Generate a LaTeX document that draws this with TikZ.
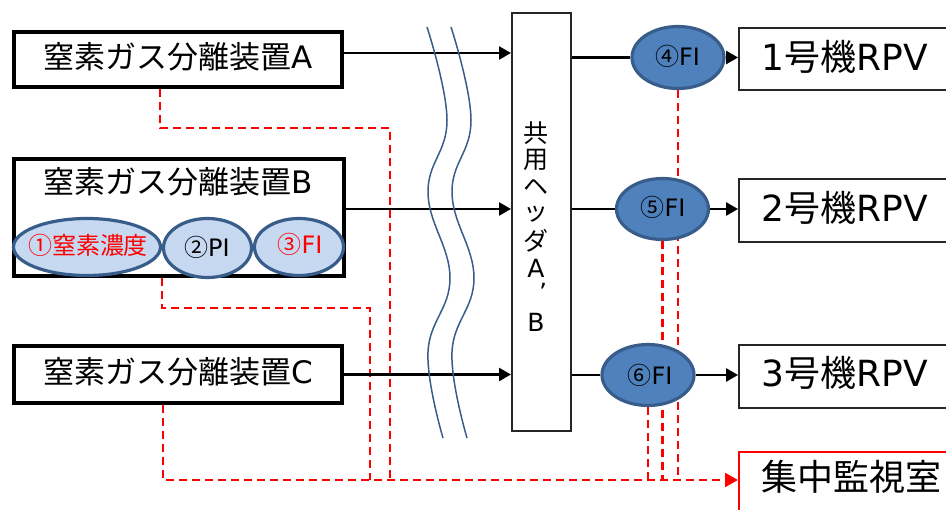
\documentclass[tikz,border=0pt]{standalone}
\usepackage{fontspec}
\setmainfont{DejaVu Sans}
\newfontfamily\jp{Noto Sans CJK JP}
\usetikzlibrary{arrows.meta,shapes.geometric}
\definecolor{lblue}{HTML}{C6D9F1}
\definecolor{mblue}{HTML}{4F81BD}
\definecolor{dblue}{HTML}{385D8A}
\definecolor{redc}{HTML}{FF0000}
\pgfdeclarelayer{bg}
\pgfsetlayers{bg,main}
\begin{document}
\begin{tikzpicture}[x=1pt,y=-1pt,
  thickbox/.style={draw=black,line width=4pt,fill=white,inner sep=0pt},
  thinbox/.style={draw=black!85,line width=1.8pt,fill=white,inner sep=0pt},
  redbox/.style={draw=redc,line width=2pt,fill=white,inner sep=0pt},
  lell/.style={ellipse,draw=dblue,line width=3.2pt,fill=lblue,inner sep=0pt},
  fell/.style={ellipse,draw=dblue,line width=3.2pt,fill=mblue,inner sep=0pt},
  arr/.style={line width=2.4pt,-{Triangle[length=12pt,width=13pt]}},
  pipe/.style={line width=2.4pt},
  sig/.style={draw=redc,line width=2.2pt,dash pattern=on 8pt off 5pt},
  sigarr/.style={sig,-{Triangle[length=13pt,width=14pt]}},
  wave/.style={draw=dblue,line width=1.5pt},
  big/.style={inner sep=0pt,font=\fontsize{31pt}{31pt}\selectfont},
  rpv/.style={inner sep=0pt,font=\fontsize{36pt}{36pt}\selectfont},
  mid/.style={inner sep=0pt,font=\fontsize{24pt}{24pt}\selectfont},
  hdr/.style={inner sep=0pt,font=\fontsize{25pt}{25pt}\selectfont},
  ]
\useasboundingbox (0,0) rectangle (946,510);
\clip (0,0) rectangle (946,510);

% boxes
\node[thickbox,minimum width=328pt,minimum height=55pt] (A) at (178,59.5) {};
\node[thickbox,minimum width=330pt,minimum height=117pt] (B) at (179,217.5) {};
\node[thickbox,minimum width=328pt,minimum height=57pt] (C) at (178,374.5) {};
\node[thinbox,minimum width=59.2pt,minimum height=418.2pt] (H) at (541.5,222) {};
\node[thinbox,minimum width=220pt,minimum height=62.2pt] (R1) at (849,59) {};
\node[thinbox,minimum width=220pt,minimum height=63.2pt] (R2) at (849,210.5) {};
\node[thinbox,minimum width=220pt,minimum height=63.2pt] (R3) at (849,376.5) {};
\node[redbox,minimum width=220pt,minimum height=87pt] (SC) at (849,495.5) {};

% ellipses
\node[lell,minimum width=147pt,minimum height=57pt] (e1) at (87,247) {};
\node[lell,minimum width=88pt,minimum height=59pt] (e2) at (207.5,248) {};
\node[lell,minimum width=89pt,minimum height=57pt] (e3) at (299,247) {};
\node[fell,minimum width=92pt,minimum height=62pt] (e4) at (678,57.5) {};
\node[fell,minimum width=92pt,minimum height=61pt] (e5) at (662.5,209) {};
\node[fell,minimum width=92pt,minimum height=61pt] (e6) at (648,375) {};

% junction coordinates on the signal bus
\coordinate (jA) at (390,480);
\coordinate (jB) at (370,480);

% signal lines (behind)
\begin{pgfonlayer}{bg}
\draw[sig] ([xshift=-18pt]A.south) -- ++(0,39) -| (jA);
\draw[sig] ([xshift=-17pt]B.south) -- ++(0,30) -| (jB);
\draw[sigarr] ([xshift=-15pt]C.south) |- (SC.west |- jA);
\draw[sig] (e4.south) -- (e4.south |- jA);
\draw[sig] (e5.south) -- (e5.south |- jA);
\draw[sig] (e6.south) -- (e6.south |- jA);
\end{pgfonlayer}

% flow lines
\coordinate (a1) at ([yshift=6.5pt]A.east);
\coordinate (b1) at ([yshift=8.5pt]B.east);
\coordinate (c1) at (C.east);
\draw[arr] (a1) -- (a1 -| H.west);
\draw[arr] (b1) -- (b1 -| H.west);
\draw[arr] (c1) -- (c1 -| H.west);
\draw[pipe] (H.east |- e4) -- (e4.west);
\draw[pipe] (H.east |- e5) -- (e5.west);
\draw[pipe] (H.east |- e6) -- (e6.west);
\draw[arr] (e4.east) -- (e4.east -| R1.west);
\draw[arr] (e5.east) -- (e5.east -| R2.west);
\draw[arr] (e6.east) -- (e6.east -| R3.west);

% break marks
\draw[wave] plot[smooth,tension=0.7] coordinates {(427,27) (447,120) (428,193) (450,278) (428,352) (443,438)};
\draw[wave] plot[smooth,tension=0.7] coordinates {(451,27) (471,120) (452,193) (474,278) (452,352) (467,438)};

% texts
\node[big] (tA) at (178,57) {{\jp 窒素ガス分離装置}A};
\node[big] (tB) at (178,182) {{\jp 窒素ガス分離装置}B};
\node[big] (tC) at (178,372) {{\jp 窒素ガス分離装置}C};
\node[mid,text=redc] (t1) at (88,245) {\jp ①窒素濃度};
\node[mid] (t2) at (207,247) {{\jp ②}PI};
\node[mid,text=redc] (t3) at (300,244) {{\jp ③}FI};
\node[mid] (t4) at (677.5,56.5) {{\jp ④}FI};
\node[mid] (t5) at (663,207) {{\jp ⑤}FI};
\node[mid] (t6) at (650,375) {{\jp ⑥}FI};
\node[rpv] (tR1) at (845,57) {1{\jp 号機}RPV};
\node[rpv] (tR2) at (845,208) {2{\jp 号機}RPV};
\node[rpv] (tR3) at (845,373) {3{\jp 号機}RPV};
\node[rpv] (tSC) at (851,477) {\jp 集中監視室};
\foreach \c [count=\i] in {共,用,ヘ,ッ,ダ}
  \node[hdr] (h\i) at (536,{133+27*(\i-1)}) {\jp \c};
\node[hdr] (h6) at (536,268) {A};
\node[hdr] (h7) at (543,292) {’};
\node[hdr] (h8) at (536,322) {B};
\end{tikzpicture}
\end{document}
